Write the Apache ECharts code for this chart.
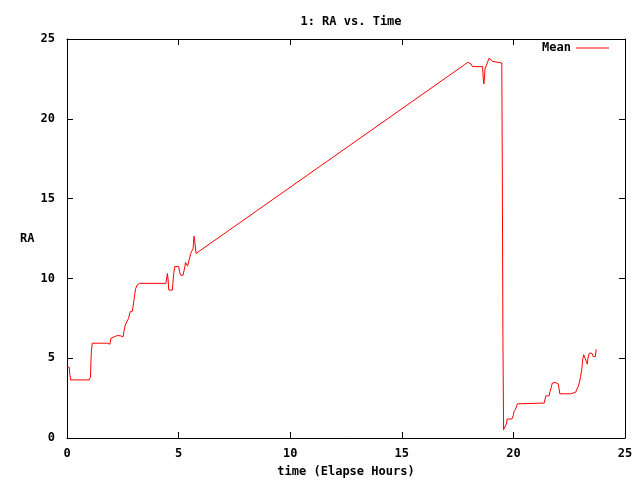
<!DOCTYPE html>
<html>
<head>
<meta charset="utf-8">
<script src="https://cdn.jsdelivr.net/npm/echarts@6/dist/echarts.min.js"></script>
<style>html,body{margin:0;padding:0;background:#fff}#c{width:640px;height:480px}</style>
</head>
<body>
<div id="c"></div>
<script>
var titleText = "1: RA vs. Time";
var xName = "time (Elapse Hours)";
var yName = "RA";
var seriesName = "Mean";
var xTicks = [0, 5, 10, 15, 20, 25];
var yTicks = [0, 5, 10, 15, 20, 25];
var times = [0, 0.1, 0.12, 0.16, 1.0, 1.05, 1.09, 1.13, 1.80, 1.92, 1.97, 2.03, 2.25, 2.40, 2.44, 2.51, 2.55, 2.61, 2.68, 2.76, 2.83, 2.93, 2.99, 3.04, 3.08, 3.14, 3.25, 4.43, 4.46, 4.50, 4.53, 4.56, 4.72, 4.78, 4.83, 5.0, 5.05, 5.09, 5.2, 5.28, 5.31, 5.38, 5.40, 5.50, 5.54, 5.62, 5.65, 5.69, 5.73, 5.78, 5.83, 17.80, 17.95, 18.1, 18.17, 18.62, 18.65, 18.68, 18.73, 18.84, 18.92, 18.99, 19.06, 19.1, 19.48, 19.50, 19.53, 19.56, 19.6, 19.62, 19.68, 19.70, 19.72, 19.93, 19.99, 20.03, 20.1, 20.18, 20.21, 21.38, 21.42, 21.45, 21.6, 21.64, 21.7, 21.74, 21.89, 22.0, 22.04, 22.08, 22.57, 22.64, 22.79, 22.83, 22.9, 22.96, 23.0, 23.01, 23.07, 23.1, 23.15, 23.22, 23.27, 23.31, 23.34, 23.4, 23.52, 23.58, 23.67, 23.71];
var ra = [4.44, 4.44, 4.06, 3.64, 3.64, 3.8, 5.41, 5.94, 5.94, 5.88, 6.25, 6.35, 6.42, 6.40, 6.33, 6.33, 6.66, 7.08, 7.18, 7.5, 7.91, 7.95, 8.54, 9.06, 9.37, 9.58, 9.69, 9.69, 9.79, 10.31, 9.9, 9.27, 9.27, 10.3, 10.75, 10.75, 10.41, 10.2, 10.2, 10.73, 11.0, 11.0, 10.77, 11.31, 11.56, 11.56, 11.87, 12.64, 12.29, 11.56, 11.46, 23.38, 23.54, 23.44, 23.27, 23.27, 22.5, 22.19, 23.13, 23.54, 23.81, 23.81, 23.6, 23.5, 23.5, 17.8, 6.3, 0.52, 0.52, 0.69, 0.75, 0.94, 1.19, 1.19, 1.39, 1.66, 1.81, 2.14, 2.19, 2.19, 2.44, 2.64, 2.64, 2.91, 3.19, 3.44, 3.48, 3.4, 3.13, 2.77, 2.77, 2.87, 2.87, 2.77, 3.23, 3.5, 3.55, 3.85, 4.37, 4.89, 5.21, 5.21, 4.79, 4.63, 5.0, 5.31, 5.31, 5.1, 5.1, 5.56];

var font = "DejaVu Sans Mono";
var pts = times.map(function (t, i) { return [t, ra[i]]; });
var xMin = xTicks[0], xMax = xTicks[xTicks.length - 1], xInt = xTicks[1] - xTicks[0];
var yMin = yTicks[0], yMax = yTicks[yTicks.length - 1], yInt = yTicks[1] - yTicks[0];
var lbl = {fontFamily: font, fontSize: 12, fontWeight: 'bold', color: '#000'};
function axisBase(show) {
  return {
    type: 'value', splitLine: {show: false},
    axisLine: {show: true, onZero: false, lineStyle: {color: '#000', width: 1}},
    axisTick: {show: true, inside: true, length: 6, lineStyle: {color: '#000'}},
    axisLabel: show ? Object.assign({}, lbl) : {show: false}
  };
}
var xb = Object.assign(axisBase(true), {min: xMin, max: xMax, interval: xInt, position: 'bottom',
  name: xName, nameLocation: 'middle', nameGap: 28, nameTextStyle: Object.assign({}, lbl)});
xb.axisLabel.margin = 10;
var xt = Object.assign(axisBase(false), {min: xMin, max: xMax, interval: xInt, position: 'top'});
var yl = Object.assign(axisBase(true), {min: yMin, max: yMax, interval: yInt, position: 'left'});
yl.axisLabel.margin = 12;
var yr = Object.assign(axisBase(false), {min: yMin, max: yMax, interval: yInt, position: 'right'});

var chart = echarts.init(document.getElementById('c'), null, {renderer: 'canvas'});
chart.setOption({
  animation: false,
  backgroundColor: '#fff',
  title: {text: titleText, left: 346, top: 11, textAlign: 'center',
    textStyle: {fontFamily: font, fontSize: 12, fontWeight: 'bold', color: '#000'}},
  grid: {left: 67, right: 15, top: 39, bottom: 42, containLabel: false, outerBoundsMode: 'none'},
  xAxis: [xb, xt],
  yAxis: [yl, yr],
  legend: {right: 31, top: 42, padding: 0, align: 'right', icon: 'rect', itemWidth: 33, itemHeight: 1, itemGap: 8,
    textStyle: Object.assign({}, lbl, {padding: [0, 0, 0, 0]}),
    data: [{name: seriesName, itemStyle: {color: '#ff0000'}}]},
  graphic: [{type: 'text', left: 20, top: 233, style: {text: yName, font: 'bold 12px "DejaVu Sans Mono"', fill: '#000'}}],
  series: [{name: seriesName, type: 'line', xAxisIndex: 0, yAxisIndex: 0, data: pts, showSymbol: false,
    lineStyle: {color: '#ff0000', width: 1}, itemStyle: {color: '#ff0000'}}]
});
</script>
</body>
</html>
